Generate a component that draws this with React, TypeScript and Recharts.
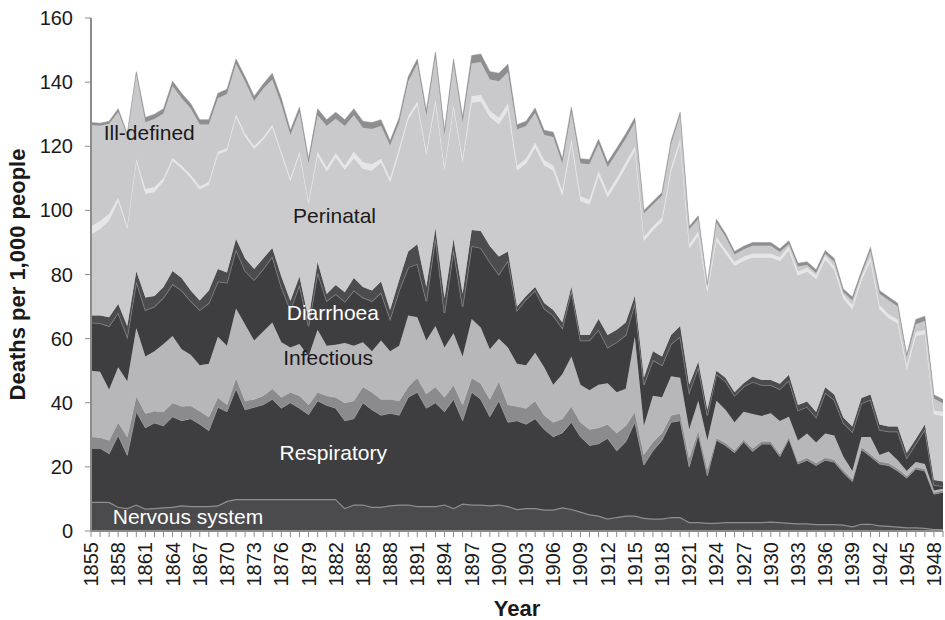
import { Area, AreaChart, ReferenceDot, XAxis, YAxis } from "recharts";

// Annual death rates by cause, deaths per 1,000 people, 1855–1949 (stacked bottom → top)
const years = Array.from({ length: 95 }, (_, i) => 1855 + i);
const yTicks = [0, 20, 40, 60, 80, 100, 120, 140, 160];

const nervous = [
  9.1, 9.1, 9.1, 7.6, 7.2, 8.3, 7, 7.2, 7.4, 7.6, 8, 7.8, 7.8, 7.8, 8,
  9.4, 10, 10, 10, 10, 10, 10, 10, 10, 10, 10, 10, 10, 7.2, 8.3,
  8.3, 7.6, 7.6, 8, 8.3, 8.3, 7.8, 7.8, 7.8, 8.3, 7.2, 8.6, 8.3, 8.3, 8,
  8.3, 7.8, 6.9, 7.2, 7.2, 6.7, 6.7, 7.4, 6.9, 6.1, 5.2, 4.8, 3.9, 4.4, 4.8,
  4.8, 4.1, 3.9, 3.9, 4.4, 4.4, 2.8, 2.8, 2.6, 2.6, 2.8, 2.8, 2.8, 2.8, 2.8,
  3, 2.8, 2.6, 2.4, 2.4, 2.2, 2.2, 2.2, 2, 1.5, 2.3, 2.3, 1.8, 1.6, 1.4,
  1.2, 1.2, 1, 0.6, 0.6,
];
const respiratory = [
  16.7, 16.7, 15, 22.2, 16.4, 28.9, 25.2, 26.5, 25.4, 28, 26.4, 27.2, 25.5, 23.5, 30.6,
  27.8, 34.4, 27.8, 28.6, 29.4, 31.1, 28.3, 30, 28.3, 26.3, 30.6, 29.2, 28.3, 27.2, 26.7,
  31.7, 30.2, 28.5, 28.7, 27.8, 33.4, 35.5, 30.5, 32.2, 28.9, 33.9, 25.8, 35, 32.8, 27.6,
  32.3, 26.1, 27.5, 26.1, 27.8, 25, 22.7, 23.2, 27, 23.3, 21.5, 22.4, 25, 20.6, 23,
  29.1, 16.5, 21.1, 24.4, 29.5, 30, 17.2, 27.2, 14.6, 25.7, 23.9, 21.6, 25, 22, 24.3,
  24.1, 20.4, 26.1, 18.5, 19.7, 18.2, 19.9, 19.3, 16.2, 13.9, 23.1, 20.9, 19.1, 18.8, 17.3,
  15.3, 18.1, 17.7, 10.9, 11.5,
];
const otherMid = [
  3.6, 3.4, 4.2, 4.1, 5.8, 5, 4.5, 3.7, 4.4, 4.4, 4.5, 4.1, 4.1, 4.3, 3.1,
  2.2, 3.4, 2.8, 2.5, 2.8, 3.3, 3.4, 3.3, 3.9, 3.1, 2.7, 3, 3.4, 5.6, 5.6,
  5, 5.5, 5, 4.4, 4.5, 3.3, 4.5, 4.5, 5, 4.5, 4.5, 5, 4.5, 4.9, 5.5,
  6.1, 5.5, 4.5, 5, 5.6, 4.4, 4.5, 4.4, 5, 4.5, 5, 5, 4.4, 5.6, 5,
  3.3, 3.3, 2.8, 2.3, 2.2, 2.3, 2.8, 1.5, 2.2, 0.7, 0.8, 0.8, 0.7, 1, 0.9,
  0.9, 0.8, 0.8, 0.8, 0.8, 0.8, 0.8, 0.8, 0.8, 0.8, 0.8, 0.8, 0.8, 0.8, 0.8,
  0.7, 0.7, 0.7, 0.6, 0.6,
];
const infectious = [
  20.6, 20.5, 15.8, 17.2, 17.3, 21.1, 17.7, 18.7, 21.1, 20.8, 17.8, 15.9, 14.3, 16.6, 18.9,
  18.4, 21.6, 23.8, 18.3, 20, 20.6, 17.2, 13.9, 16.1, 15, 19.5, 15.6, 16.4, 18.6, 17.2,
  13.9, 12.8, 18.3, 15, 17.2, 22.2, 18.9, 16.6, 18.9, 15.5, 16.1, 15, 18.3, 17.5, 15.6,
  13.3, 17.8, 13.3, 13.4, 15, 15, 11.7, 13.9, 15.5, 11.7, 12.2, 13.4, 12.8, 12.7, 11.6,
  23.4, 8.9, 14.4, 11.1, 12.2, 11.1, 8.9, 9.1, 8.9, 11.6, 10.3, 8.7, 8.7, 10.7, 7.9,
  8.7, 10.3, 6.1, 6.5, 7.5, 6.4, 7.5, 7.5, 4.2, 2.5, 3.1, 5.3, 2, 3.6, 2.6,
  1.5, 1.5, 1.5, 0.5, 0.5,
];
const diarrhoea = [
  15, 15.1, 19.8, 17, 13.9, 14.5, 14.5, 13.9, 14.5, 16.2, 18.3, 16.7, 17.2, 18.9, 17.2,
  19.6, 18.4, 16.7, 18.9, 19.5, 20.6, 17.2, 11.7, 18.4, 9.5, 17.8, 13.9, 15.8, 12.9, 17.2,
  13.9, 15.6, 15, 10, 17.2, 15, 16.6, 12.3, 27.8, 10.8, 26.1, 15.6, 22.8, 24.8, 27.2,
  20, 27.2, 16.6, 20.5, 19.4, 18.3, 21.6, 14.4, 20.6, 13.8, 15.5, 17.2, 11.1, 15.6, 16.7,
  10.5, 12.8, 11.1, 10, 10, 12.8, 11.6, 10.5, 7.8, 8.3, 8.9, 8.3, 7.8, 10, 9.6,
  8.8, 9.9, 11.4, 9.4, 8.3, 7.8, 12.7, 11.1, 10.5, 12.2, 10.5, 11.6, 7.8, 6.2, 8.9,
  4.1, 5.7, 10.8, 1.8, 0.7,
];
const otherDark = [
  2.2, 2.4, 2.8, 2.7, 3.3, 3.2, 3.9, 3.3, 3.3, 4.1, 3.9, 3.3, 3, 3.9, 3.9,
  3.2, 3.3, 3.9, 3.4, 3.3, 2.7, 3.3, 2.8, 2.7, 2.2, 3.3, 2.2, 2.8, 3, 3.9,
  3.3, 3.3, 3.4, 2.8, 3.3, 5, 6.1, 4.4, 2.7, 4.5, 3.3, 4, 5, 5.3, 5,
  5.6, 2.8, 1.2, 1.1, 1.1, 1.7, 1.7, 1.7, 1.1, 1.7, 1.7, 3.3, 3.9, 3.9, 3.9,
  2.2, 2.2, 2.8, 2.7, 2.8, 3.3, 2.3, 1.7, 1.7, 1.1, 1.1, 1.1, 1.1, 1.7, 1.6,
  1.6, 1.7, 1.7, 1.7, 1.7, 1.7, 1.7, 1.7, 1.7, 1.7, 1.7, 1.7, 1.7, 1.6, 1.6,
  1.5, 1.5, 1.5, 1.5, 1.5,
];
const perinatal = [
  25.3, 27, 30.2, 32.1, 30.4, 34.3, 32.4, 32.4, 33.1, 34.4, 34.2, 35.2, 34.7, 33.1, 35.8,
  38, 38.1, 38.1, 37.5, 37, 37.6, 38.1, 37.5, 38.1, 35.9, 33.2, 38.2, 39.9, 38.2, 37.4,
  36.9, 37.4, 37.1, 39.9, 39.9, 41.2, 43.5, 41.2, 39, 40, 40.7, 41, 39.7, 40.4, 40.2,
  41.3, 44.1, 42.4, 41.3, 43.5, 43, 43.5, 39.6, 44.6, 41.8, 40.7, 44.6, 43, 45.7, 48.5,
  45.2, 42.7, 37.7, 42.2, 51, 57.1, 42.6, 39.3, 36.5, 40.5, 38.8, 39.4, 38.2, 37.1, 38.2,
  38.2, 38.3, 38.8, 40.4, 40.5, 41.5, 39.9, 38.8, 37.1, 36.6, 36.6, 41.6, 36, 33.8, 32.1,
  26, 32.2, 28.2, 20.5, 20.5,
];
const otherPale = [
  2.5, 2.5, 2, 1, 0.7, 0.7, 1.5, 1.5, 0.8, 0.8, 0.8, 0.8, 0.8, 0.8, 0.8,
  0.8, 0.8, 0.8, 0.8, 0.8, 0.8, 0.8, 0.8, 0.8, 0.8, 1.2, 1.2, 1.2, 1.2, 2,
  2, 2, 1.2, 1.2, 1.2, 1, 1, 1, 1, 1, 1, 1, 2, 2, 2,
  2, 2, 1.5, 1.5, 1.5, 1.5, 1.5, 1.5, 1.5, 1.5, 1.5, 1.5, 1.5, 1.5, 1.5,
  1.5, 1.2, 1.2, 1.2, 1.2, 1.2, 1.2, 1.2, 1.2, 1.2, 1.2, 1.2, 1.2, 1.2, 1.2,
  1.2, 1.2, 1.2, 1.2, 1.2, 1.2, 1.2, 1.2, 1.2, 1.2, 1.2, 1.2, 1.2, 1.2, 1.2,
  1.2, 1.2, 1.2, 1.2, 1.2,
];
const illDefined = [
  31.6, 29.7, 28.1, 26.8, 28.4, 26.5, 20.8, 21.3, 20.2, 22.5, 21.1, 20.8, 19.4, 17.9, 16.7,
  16.9, 15.7, 16.3, 14.1, 15.1, 14.1, 14.7, 13.5, 12.4, 11.8, 11.4, 13, 10.8, 12.4, 11.4,
  10.8, 11, 10.2, 10.2, 8, 10.8, 11.8, 11.3, 13.5, 10, 12.9, 11.5, 10.2, 10.3, 9.7,
  11.4, 9.8, 11.3, 10.2, 9.3, 7.9, 9, 8.5, 8.5, 10.2, 11.1, 8.5, 7.9, 7.9, 7.4,
  7.4, 7.3, 6.8, 6.8, 7.4, 7.4, 4.6, 4, 1, 4.5, 4, 2.3, 2.3, 2.5, 2.5,
  2.5, 1.6, 0.8, 1.6, 0.9, 0.7, 0.6, 1.4, 0.8, 1.6, 0.7, 2.1, 3.6, 4.4, 4.1,
  2.5, 2.4, 2.9, 3.7, 2.7,
];
const otherTop = [
  0.8, 0.8, 0.8, 1, 0.5, 0.8, 1.5, 1.5, 1.5, 1.5, 1.5, 1.5, 1.5, 1.5, 1.5,
  1.5, 1.5, 1.5, 1.5, 1.5, 2, 2, 1.5, 1.5, 1.5, 2, 2, 2, 2, 2,
  2, 2, 2, 1.5, 1.5, 1.5, 1.5, 1.5, 1.5, 1.5, 1.5, 1.5, 2.5, 2.5, 2.5,
  2.5, 2.5, 1.5, 1.5, 1.5, 1.5, 1.5, 1.5, 1.5, 1.5, 1.5, 1.5, 1.5, 1.5, 1.5,
  1.5, 1, 1, 1, 1, 1, 1, 1, 0.5, 1, 1, 1, 1, 1, 1,
  1, 1, 1, 1, 1, 1, 1, 1, 1, 1, 1, 1, 1, 1, 1,
  1, 1.5, 1.5, 1.2, 1.2,
];

const data = years.map((year, i) => ({
  year,
  nervous: nervous[i],
  respiratory: respiratory[i],
  otherMid: otherMid[i],
  infectious: infectious[i],
  diarrhoea: diarrhoea[i],
  otherDark: otherDark[i],
  perinatal: perinatal[i],
  otherPale: otherPale[i],
  illDefined: illDefined[i],
  otherTop: otherTop[i],
}));

const FONT = '"Liberation Sans", Arial, Helvetica, sans-serif';

// stacking order, bottom first
const layers = [
  { key: "nervous", fill: "#4b4b4d", stroke: "#8f8f91", width: 2.5 },
  { key: "respiratory", fill: "#3e3e40", stroke: "#9a9a9c", width: 0.8 },
  { key: "otherMid", fill: "#8b8b8d", stroke: "#b9b9bb", width: 0.8 },
  { key: "infectious", fill: "#b7b7b9", stroke: "#b7b7b9", width: 0.5 },
  { key: "diarrhoea", fill: "#3e3e40", stroke: "#8a8a8c", width: 1.4 },
  { key: "otherDark", fill: "#4c4c4e", stroke: "#4c4c4e", width: 0.5 },
  { key: "perinatal", fill: "#cbcbcd", stroke: "#cbcbcd", width: 0.5 },
  { key: "otherPale", fill: "#e6e6e8", stroke: "#e6e6e8", width: 0.5 },
  { key: "illDefined", fill: "#c9c9cb", stroke: "#c9c9cb", width: 0.5 },
  { key: "otherTop", fill: "#8e8e90", stroke: "#8e8e90", width: 0.5 },
];

// in-chart category labels, anchored in data space
const labels = [
  { text: "Ill-defined", year: 1856.4, value: 121.8, color: "#1a1a1a" },
  { text: "Perinatal", year: 1877.3, value: 96.2, color: "#1a1a1a" },
  { text: "Diarrhoea", year: 1876.6, value: 65.9, color: "#ffffff" },
  { text: "Infectious", year: 1876.2, value: 51.8, color: "#1a1a1a" },
  { text: "Respiratory", year: 1875.8, value: 22, color: "#ffffff" },
  { text: "Nervous system", year: 1857.4, value: 2.1, color: "#ffffff" },
];

function YearTick({ x, y, payload }: any) {
  if ((payload.value - 1855) % 3 !== 0) return <g />;
  return (
    <text
      x={x}
      y={y}
      transform={`rotate(-90, ${x}, ${y})`}
      textAnchor="end"
      dominantBaseline="central"
      fontSize={20}
      fontFamily={FONT}
      fill="#1a1a1a"
    >
      {payload.value}
    </text>
  );
}

export default function App() {
  return (
    <div style={{ position: "absolute", left: 0, top: 0 }}>
      <AreaChart
        width={945}
        height={620}
        data={data}
        margin={{ top: 18, right: 2, bottom: 0, left: 0 }}
      >
        <XAxis
          dataKey="year"
          type="number"
          domain={[1855, 1949]}
          ticks={years}
          interval={0}
          tick={<YearTick />}
          tickSize={6}
          tickMargin={5}
          height={89}
          axisLine={{ stroke: "#8c8c8c", strokeWidth: 2 }}
          tickLine={{ stroke: "#8c8c8c" }}
          label={{
            value: "Year",
            position: "insideBottom",
            offset: 4,
            style: { fontSize: 22, fontWeight: 700, fontFamily: FONT, fill: "#1a1a1a" },
          }}
        />
        <YAxis
          domain={[0, 160]}
          ticks={yTicks}
          width={91}
          tickSize={6}
          tickMargin={12}
          axisLine={{ stroke: "#8c8c8c", strokeWidth: 2 }}
          tickLine={{ stroke: "#8c8c8c" }}
          tick={{ fontSize: 20, fontFamily: FONT, fill: "#1a1a1a" }}
          label={{
            value: "Deaths per 1,000 people",
            angle: -90,
            position: "insideLeft",
            offset: 17,
            style: { textAnchor: "middle", fontSize: 22, fontWeight: 700, fontFamily: FONT, fill: "#1a1a1a" },
          }}
        />
        {layers.map((l) => (
          <Area
            key={l.key}
            dataKey={l.key}
            stackId="deaths"
            type="linear"
            fill={l.fill}
            fillOpacity={1}
            stroke={l.stroke}
            strokeWidth={l.width}
            dot={false}
            activeDot={false}
            isAnimationActive={false}
          />
        ))}
        {labels.map((lb) => (
          <ReferenceDot
            key={lb.text}
            x={lb.year}
            y={lb.value}
            r={0}
            ifOverflow="visible"
            shape={(p: any) => (
              <text x={p.cx} y={p.cy} fontSize={21} fontFamily={FONT} fill={lb.color}>
                {lb.text}
              </text>
            )}
          />
        ))}
      </AreaChart>
    </div>
  );
}
